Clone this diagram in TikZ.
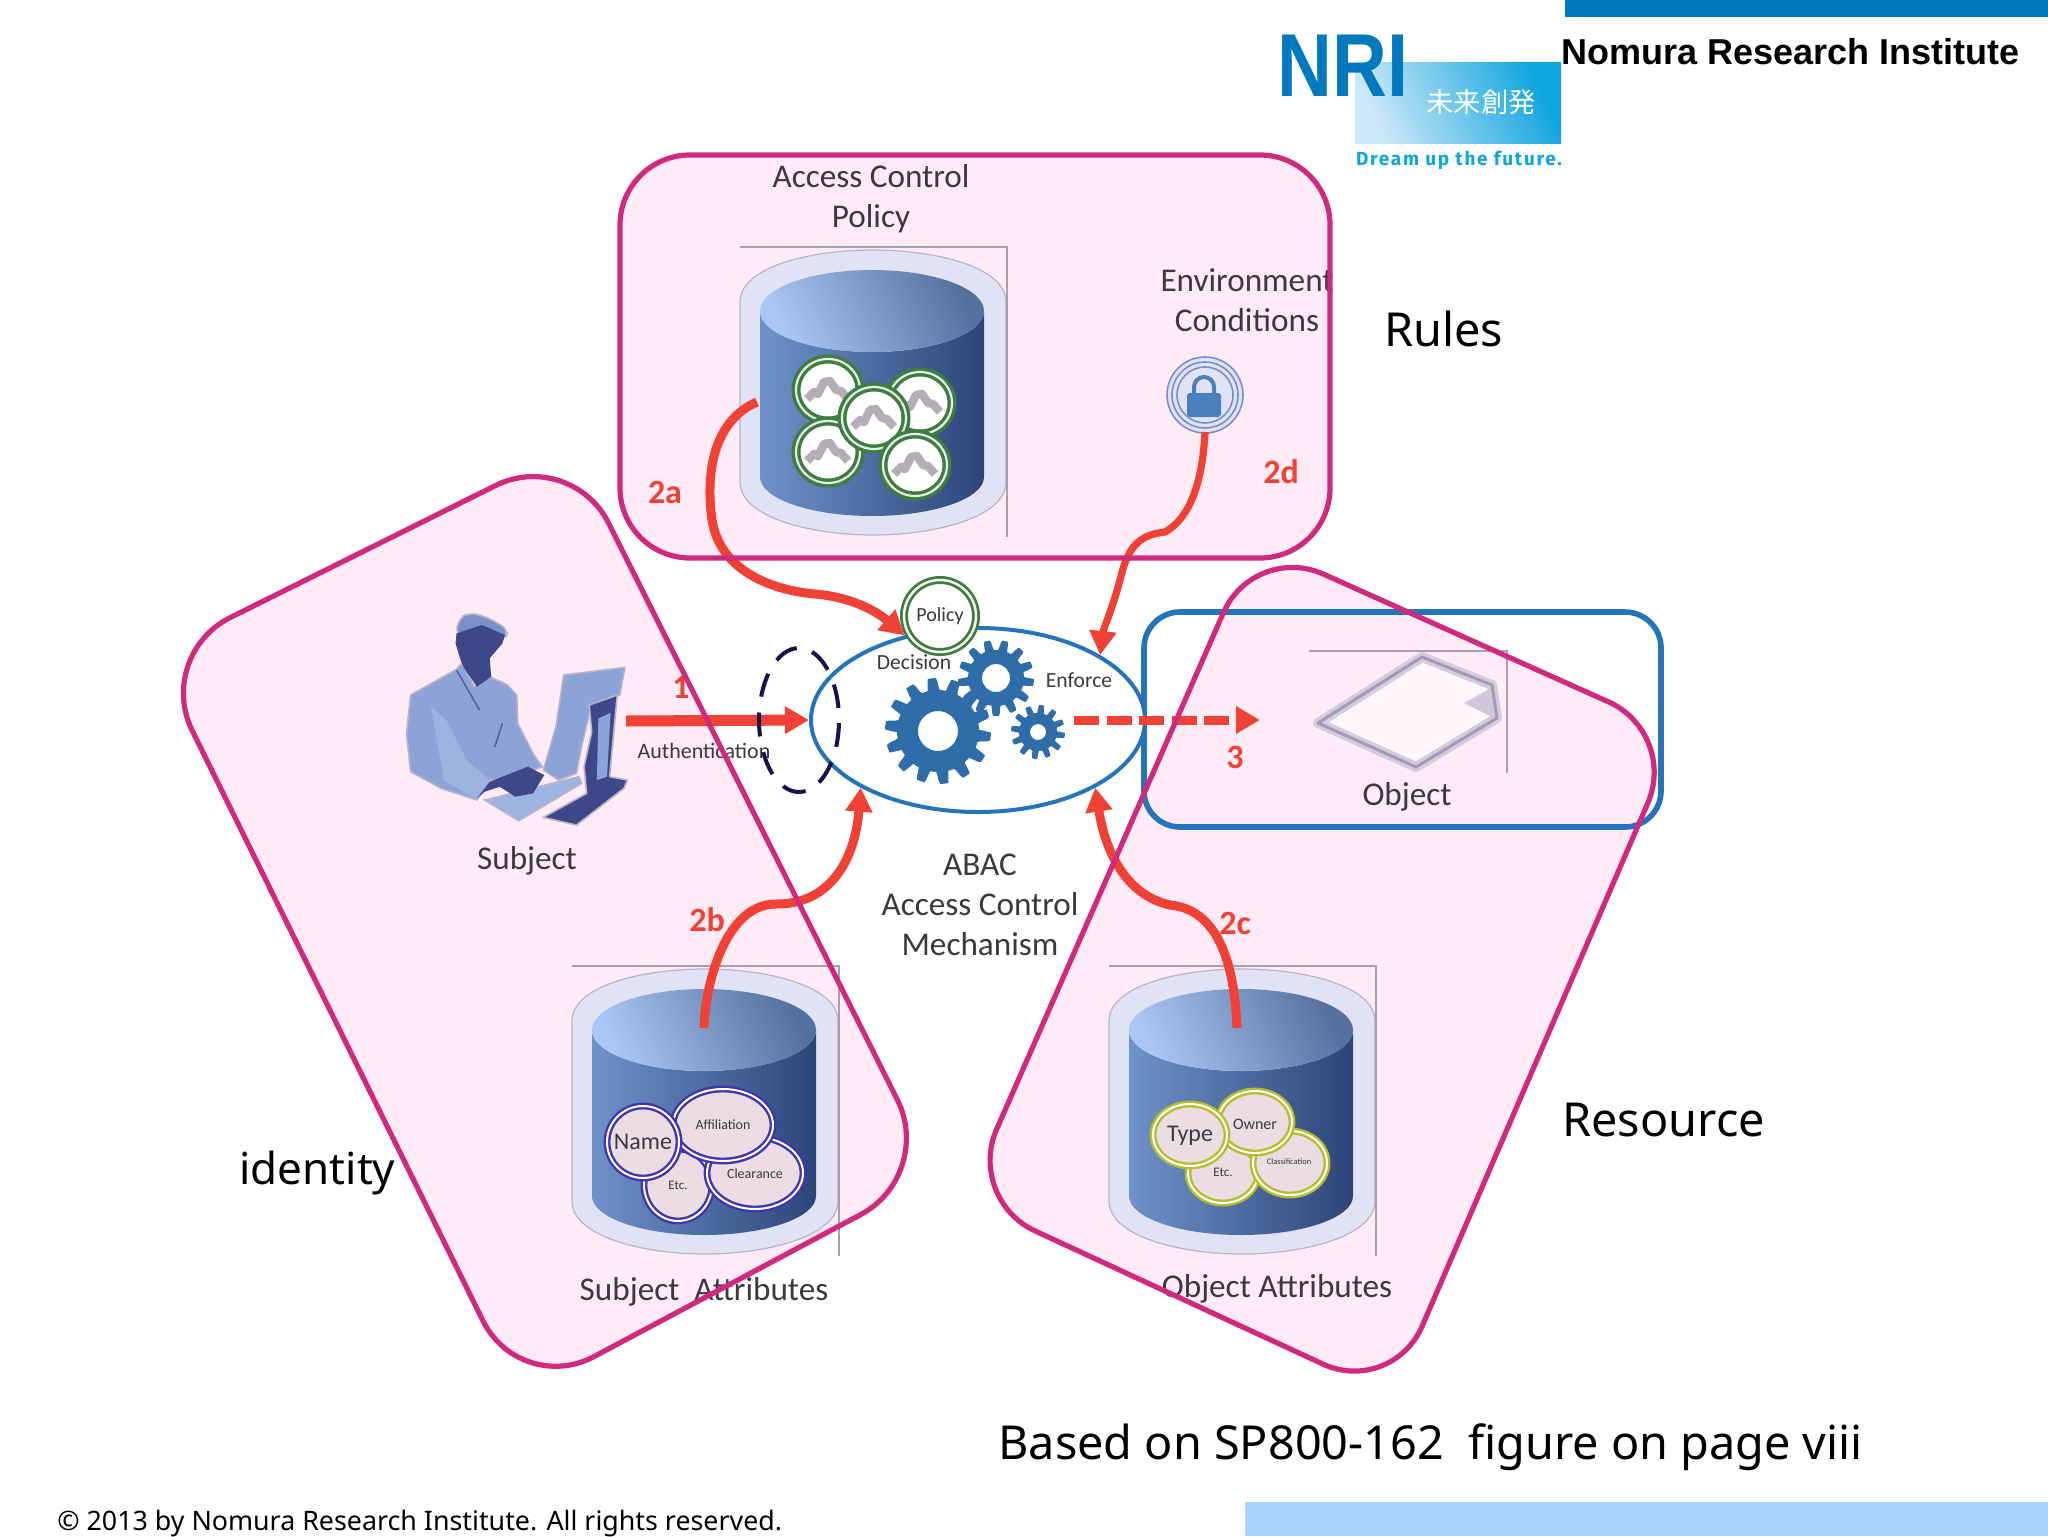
\documentclass[tikz,border=0pt]{standalone}
\usepackage{fontspec}
\setmainfont{Carlito}
\newfontfamily\notof{Noto Sans}
\newfontfamily\arialf{Liberation Sans}
\newfontfamily\cjkf{Noto Sans CJK JP}
\newfontfamily\dreamf[LetterSpace=9]{Fira Sans}
\usetikzlibrary{arrows.meta,shapes.geometric}
\definecolor{pinkfill}{HTML}{FEEBF6}
\definecolor{pinkline}{HTML}{D02A7F}
\definecolor{blueline}{HTML}{2574BA}
\definecolor{nriblue}{HTML}{0079BF}
\definecolor{nricyan}{HTML}{0FA5DE}
\definecolor{nripale}{HTML}{CDE8F7}
\definecolor{footblue}{HTML}{A7D5FB}
\definecolor{redline}{HTML}{EF4136}
\definecolor{labelgray}{HTML}{3C393E}
\definecolor{gearblue}{HTML}{2F6DA9}
\definecolor{framegray}{HTML}{A89FA8}
\definecolor{halofill}{HTML}{E0E2F5}
\definecolor{haloline}{HTML}{B9B2C9}
\definecolor{tokeninner}{HTML}{EBDDE3}
\definecolor{ringblue}{HTML}{4035B0}
\definecolor{ringyellow}{HTML}{B5BE2C}
\definecolor{ringgreen}{HTML}{3F7D3F}
\definecolor{persondark}{HTML}{3D4888}
\definecolor{personmid}{HTML}{8BA3D6}
\definecolor{personlight}{HTML}{9DB3E0}
\definecolor{personhair}{HTML}{7B8FC8}
\definecolor{cylleft}{HTML}{6F92C9}
\definecolor{cylmid}{HTML}{4F6EA6}
\definecolor{cylright}{HTML}{2C4579}
\definecolor{toplight}{HTML}{A9C6F5}
\definecolor{topdark}{HTML}{53709F}
\definecolor{ringpale}{HTML}{E4F0EA}
\definecolor{handgray}{HTML}{B5ADB5}
\definecolor{lockring}{HTML}{7A8FC8}
\definecolor{lockblue}{HTML}{4A7FBD}
\definecolor{docline}{HTML}{A59AB5}
\definecolor{docfold}{HTML}{CFC8D8}
\definecolor{authnavy}{HTML}{14144A}
\newcommand{\fsz}[1]{\fontsize{#1}{#1}\selectfont}
\newcommand{\gearat}[6]{%
  \begin{scope}[shift={(#1,#2)}]
    \fill[gearblue,even odd rule] plot[domain=0:360,samples=211] (\x:{#3+#4*max(-1,min(1,2.5*sin(#5*\x)))}) -- cycle (0,0) circle (#6);
  \end{scope}}
\tikzset{
  x=0.5pt,y=-0.5pt,
  pinkshape/.style={fill=pinkfill,draw=none},
  pinkedge/.style={draw=pinkline,line width=2.6pt,line join=round},
  dgmlabel/.style={font=\fontsize{16.6}{20}\selectfont,text=labelgray,inner sep=0pt,align=center},
  dgmsmall/.style={font=\fsz{11},text=labelgray,inner sep=0pt},
  redlabel/.style={font=\bfseries\fsz{17},text=redline,inner sep=0pt},
  overtext/.style={font=\notof\fsz{23.4},text=black,inner sep=0pt,anchor=west},
  flow/.style={draw=redline,line width=4.5pt,-{Triangle[length=12pt,width=13pt]}},
  flowthin/.style={flow,line width=3.6pt},
  tokentext/.style={text=labelgray,inner sep=0pt},
  attrtoken/.style={draw=#1,double=white,line width=1.2pt,double distance=1pt,fill=tokeninner},
  dbcyl/.pic={
    \draw[fill=halofill,draw=haloline,line width=0.6pt] (0,55) .. controls (0,20) and (70,3) .. (133,3) .. controls (196,3) and (266,20) .. (266,55) -- (266,235) .. controls (266,270) and (196,288) .. (133,288) .. controls (70,288) and (0,270) .. (0,235) -- cycle;
    \shade[left color=cylleft,middle color=cylmid,right color=cylright] (20,64) -- (20,230) arc (180:0:112 and 39) -- (244,64) arc (0:180:112 and 41) -- cycle;
    \shade[bottom color=toplight,top color=topdark,shading angle=-65] (132,64) ellipse (112 and 41);
    \draw[framegray,line width=1pt] (0,0) -- (267,0) -- (267,290);
  },
  handtoken/.pic={
    \draw[draw=ringgreen,double=ringpale,line width=1.7pt,double distance=1.1pt,fill=white] (0,0) ellipse (32 and 31);
    \draw[handgray,line width=4.2pt,line join=round] (-21,9) -- (-14,2) -- (-10,4) -- (-4,-8) -- (2,-9) -- (8,0) -- (13,1) -- (20,9);
  }
}
\begin{document}
\begin{tikzpicture}
\useasboundingbox (0,0) rectangle (2048,1536);
\fill[white] (0,0) rectangle (2048,1536);
% pink region fills
\fill[pinkshape,rounded corners=35pt] (620,155) rectangle (1330,558);
\fill[pinkshape,rounded corners=42pt] (571,448) -- (935,1175) -- (520,1396) -- (155,655) -- cycle;
\fill[pinkshape,rounded corners=38pt] (1254,543) -- (1678,733) -- (1392,1396) -- (966,1199) -- cycle;
% header and footer
\fill[nriblue] (1565,0) rectangle (2048,17);
\fill[footblue] (1245,1502) rectangle (2048,1536);
\shade[bottom color=nripale,top color=nricyan,shading angle=-65] (1355,63) rectangle (1561,143);
\node[font=\arialf\bfseries\fsz{44.7},text=nriblue,inner sep=0pt,xscale=.85] (nri) at (1343,66) {NRI};
\node[font=\cjkf\fsz{13.6},text=white,inner sep=0pt] (mirai) at (1481,102) {未来創発};
\node[font=\dreamf\bfseries\fsz{9.5},text=nricyan,inner sep=0pt] (dream) at (1459,160) {Dream up the future.};
\node[font=\arialf\bfseries\fsz{18},text=black,inner sep=0pt,anchor=west] (nomura) at (1561,52) {Nomura Research Institute};
% databases
\pic at (740,247) {dbcyl};
\pic at (572,966) {dbcyl};
\pic at (1109,966) {dbcyl};
% policy tokens
\pic at (828,390) {handtoken};
\pic at (920,403) {handtoken};
\pic at (828,452) {handtoken};
\pic at (874,418) {handtoken};
\pic at (915,465) {handtoken};
% subject attribute tokens
\draw[attrtoken=ringblue] (678,1185) ellipse (34 and 36);
\draw[attrtoken=ringblue] (755,1173) ellipse (48 and 36);
\draw[attrtoken=ringblue] (723,1125) ellipse (50 and 36);
\draw[attrtoken=ringblue] (643,1142) ellipse (36 and 36);
\node[tokentext,font=\fsz{12}] (tname) at (643,1142) {Name};
\node[tokentext,font=\fsz{7}] (taff) at (723,1125) {Affiliation};
\node[tokentext,font=\fsz{7}] (tclr) at (755,1174) {Clearance};
\node[tokentext,font=\fsz{6.5}] (tetc) at (678,1185) {Etc.};
% object attribute tokens
\draw[attrtoken=ringyellow] (1223,1173) ellipse (35 and 30);
\draw[attrtoken=ringyellow] (1290,1163) ellipse (37 and 32);
\draw[attrtoken=ringyellow] (1255,1122) ellipse (37 and 31);
\draw[attrtoken=ringyellow] (1190,1135) ellipse (37 and 31);
\node[tokentext,font=\fsz{12}] (ttype) at (1190,1136) {Type};
\node[tokentext,font=\fsz{8}] (town) at (1255,1124) {Owner};
\node[tokentext,font=\fsz{6.5}] (tetc2) at (1223,1172) {Etc.};
\node[tokentext,font=\fsz{4.2}] (tcls) at (1289,1162) {Classification};
% environment lock
\draw[fill=halofill,draw=lockring,line width=0.8pt] (1205,395) circle (38);
\draw[draw=lockring,line width=0.8pt] (1205,395) circle (33);
\draw[draw=lockring,line width=0.8pt] (1205,395) circle (28);
\draw[lockblue,line width=2pt] (1194,395) -- (1194,387) arc (180:360:10 and 10) -- (1214,395);
\fill[rounded corners=1.5pt,lockblue] (1187,393) rectangle (1221,417);
% object document
\draw[framegray,line width=1pt] (1309,651) -- (1507,651) -- (1507,773);
\draw[fill=white!55!pinkfill,draw=haloline!65!white,line width=5pt,line join=round] (1422,657) -- (1492,685) -- (1497,718) -- (1416,767) -- (1318,723) -- cycle;
\draw[docline,line width=1.5pt,line join=round] (1422,657) -- (1492,685) -- (1497,718) -- (1416,767) -- (1318,723) -- cycle;
\fill[docfold] (1491,688) -- (1464,703) -- (1494,718) -- cycle;
% object box
\draw[blueline,line width=2.8pt,rounded corners=18pt] (1144,612) rectangle (1661,827);
% subject figure
\begin{scope}[shift={(380,580)},x=0.2551pt,y=-0.1667pt]
  \draw[fill=personmid,draw=haloline,line width=0.8pt] (360,285) -- (480,262) -- (470,345) -- (415,372) -- (395,500) -- (385,580) -- (350,600) -- (320,570) -- (345,440) -- cycle;
  \draw[fill=persondark,draw=haloline,line width=0.8pt,line join=round] (410,375) -- (465,345) -- (450,590) -- (485,600) -- (478,625) -- (385,735) -- (320,712) -- (405,640) -- (400,560) -- (415,455) -- cycle;
  \fill[personmid] (428,415) -- (452,398) -- (445,590) -- (425,600) -- cycle;
  \draw[fill=personmid,draw=haloline,line width=0.8pt] (60,345) -- (150,268) -- (160,250) -- (185,320) -- (215,290) -- (250,315) -- (268,345) -- (270,430) -- (300,520) -- (318,560) -- (270,590) -- (215,600) -- (190,660) -- (120,625) -- (60,575) -- (52,460) -- cycle;
  \fill[personlight] (100,380) -- (130,420) -- (170,540) -- (215,600) -- (190,660) -- (125,600) -- cycle;
  \draw[persondark!70!personmid,line width=0.8pt] (150,270) -- (195,390) (240,430) -- (225,500);
  \draw[fill=personhair,draw=haloline,line width=0.8pt,rounded corners=4pt] (148,165) -- (155,115) -- (175,97) -- (215,115) -- (252,150) -- (245,178) -- cycle;
  \fill[persondark] (150,160) -- (200,135) -- (245,165) -- (240,190) -- (215,235) -- (218,290) -- (190,320) -- (165,265) -- (158,240) -- (148,190) -- cycle;
  \draw[fill=personlight,draw=haloline,line width=0.8pt] (205,660) -- (390,590) -- (395,610) -- (272,722) -- cycle;
  \fill[persondark] (190,655) -- (215,605) -- (290,560) -- (322,585) -- (300,640) -- (265,650) -- (235,620) -- (205,635) -- cycle;
\end{scope}
% mechanism
\node[ellipse,draw=blueline,fill=white,line width=2pt,minimum width=167pt,minimum height=92pt,inner sep=0pt] (mech) at (978,720) {};
\gearat{938}{731}{47}{6}{14}{20}
\gearat{996}{678}{33}{5}{13}{14}
\gearat{1038}{732}{23}{4}{12}{8}
\node[draw=ringgreen,double=white,line width=1.4pt,double distance=1.2pt,circle,fill=white,minimum size=36pt,inner sep=0pt,font=\fsz{10},text=labelgray] (policy) at (940,616) {Policy};
\node[dgmsmall,font=\fsz{10.8}] (decision) at (914,662) {Decision};
\node[dgmsmall,font=\fsz{10.8}] (enforce) at (1079,680) {Enforce};
% connector ends
\coordinate (auths) at (626,721);
\coordinate (as) at (757,402);
\coordinate (bs) at (704,1028);
\coordinate (cs) at (1237,1028);
\coordinate (ds) at (1205,432);
\coordinate (objs) at (1074,720);
\coordinate (obje) at (1260,720);
\draw[flow] (as) .. controls (715,420) and (705,470) .. (712,520) .. controls (720,570) and (770,590) .. (815,594) .. controls (850,597) and (875,610) .. (mech.131);
\draw[flow] (bs) .. controls (705,985) and (725,905) .. (775,904) .. controls (830,905) and (855,860) .. (mech.210);
\draw[flow] (cs) .. controls (1235,980) and (1225,910) .. (1170,905) .. controls (1125,895) and (1105,850) .. (mech.330);
\draw[flowthin] (ds) .. controls (1203,470) and (1195,515) .. (1165,532) .. controls (1140,535) and (1128,545) .. (1120,580) .. controls (1112,610) and (1103,630) .. (mech.28);
\draw[flow,line width=5.5pt] (auths) -- (mech.west);
\draw[flow,dash pattern=on 12.5pt off 3.8pt] (objs) -- (obje);
\node[draw=authnavy,dash pattern=on 12pt off 8pt,dash phase=14pt,line width=2pt,ellipse,minimum width=40pt,minimum height=72pt,inner sep=0pt] (authring) at (799,720) {};
% labels
\node[dgmlabel] (acp) at (871,199) {Access Control\\Policy};
\node[dgmlabel] (env) at (1247,300) {Environment\\Conditions};
\node[dgmlabel] (abac) at (980,905) {ABAC\\Access Control\\Mechanism};
\node[dgmlabel] (subj) at (527,861) {Subject};
\node[dgmlabel] (obj) at (1407,797) {Object};
\node[dgmlabel] (sattr) at (704,1292) {Subject\ \ Attributes};
\node[dgmlabel] (oattr) at (1277,1289) {Object Attributes};
\node[dgmsmall] (auth) at (704,751) {Authentication};
\node[redlabel] (l1) at (681,687) {1};
\node[redlabel] (l2a) at (665,492) {2a};
\node[redlabel] (l2b) at (707,920) {2b};
\node[redlabel] (l2c) at (1235,923) {2c};
\node[redlabel] (l2d) at (1281,472) {2d};
\node[redlabel] (l3) at (1235,757) {3};
% pink outlines
\draw[pinkedge,rounded corners=35pt] (620,155) rectangle (1330,558);
\draw[pinkedge,rounded corners=42pt] (571,448) -- (935,1175) -- (520,1396) -- (155,655) -- cycle;
\draw[pinkedge,rounded corners=38pt] (1254,543) -- (1678,733) -- (1392,1396) -- (966,1199) -- cycle;
% overlay text
\node[overtext] (rules) at (1384,329) {Rules};
\node[overtext,font=\notof\fsz{22}] (identity) at (239,1173) {identity};
\node[overtext] (resource) at (1562,1120) {Resource};
\node[overtext] (based) at (998,1447) {Based on SP800-162\ \ figure on page viii};
\node[overtext,font=\notof\fsz{13.4}] (copy) at (57,1524) {© 2013 by Nomura Research Institute. All rights reserved.};
\end{tikzpicture}
\end{document}
